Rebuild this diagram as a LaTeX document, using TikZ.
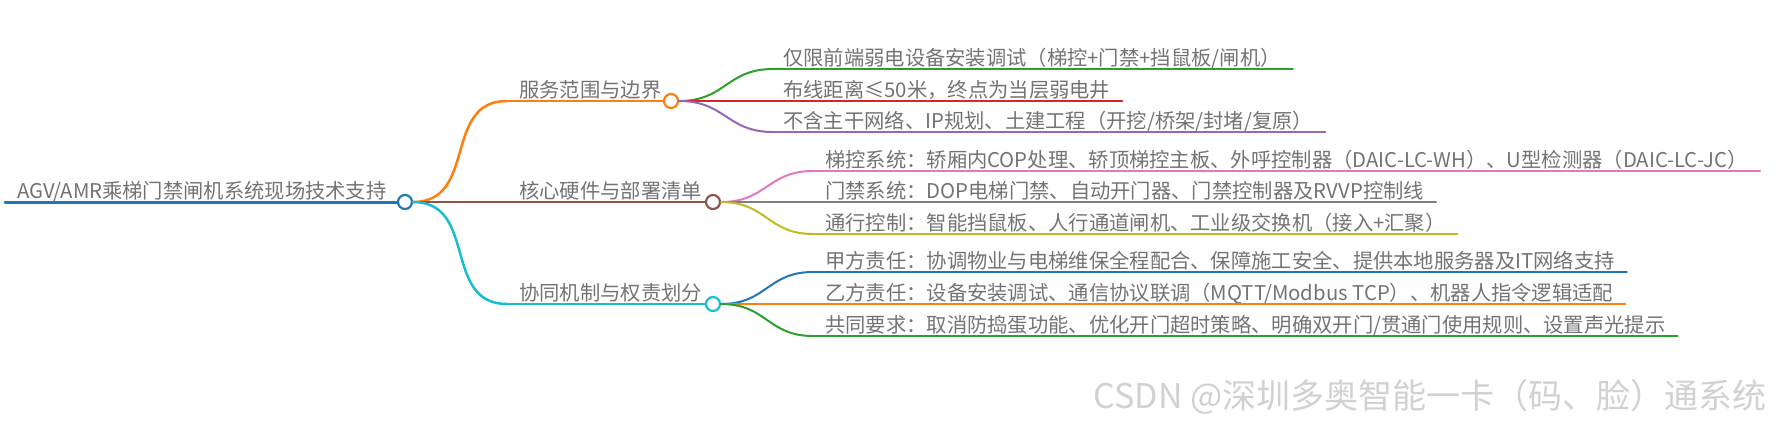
\documentclass[tikz,border=0pt]{standalone}
\usepackage{fontspec}
\setmainfont{Noto Sans CJK SC}
\usetikzlibrary{positioning}

\definecolor{cblue}{HTML}{1F77B4}
\definecolor{corange}{HTML}{FF7F0E}
\definecolor{cgreen}{HTML}{2CA02C}
\definecolor{cred}{HTML}{D62728}
\definecolor{cpurple}{HTML}{9467BD}
\definecolor{cbrown}{HTML}{8C564B}
\definecolor{cpink}{HTML}{E377C2}
\definecolor{cgray}{HTML}{7F7F7F}
\definecolor{colive}{HTML}{BCBD22}
\definecolor{ccyan}{HTML}{17BECF}

\begin{document}
\begin{tikzpicture}[x=1pt,y=-1pt,line cap=round]
\tikzstyle{dot}=[circle,draw,fill=white,line width=2.2pt,minimum size=14pt,inner sep=0pt]
\tikzstyle{txt}=[anchor=base west,yshift=4pt,inner sep=0pt,text=black!55,font=\fontsize{20.3}{24}\selectfont]
\tikzstyle{link}=[out=0,in=180,looseness=1.2]

\useasboundingbox (0,0) rectangle (1780,426);

% root
\coordinate (R0) at (5,202);
\node[dot,draw=cblue]    (R) at (405,202) {};
\node (Rt) [right=12pt of R0,txt] {AGV/AMR乘梯门禁闸机系统现场技术支持};

% branches
\coordinate (A0) at (507,101);
\coordinate (B0) at (507,202);
\coordinate (C0) at (507,304);
\node[dot,draw=corange]  (A) at (671,101) {};
\node[dot,draw=cbrown]   (B) at (713,202) {};
\node[dot,draw=ccyan]    (C) at (713,304) {};
\node (At) [right=12pt of A0,txt] {服务范围与边界};
\node (Bt) [right=12pt of B0,txt] {核心硬件与部署清单};
\node (Ct) [right=12pt of C0,txt] {协同机制与权责划分};

% leaves
\coordinate (A1) at (773,69);
\coordinate (A2) at (773,101);
\coordinate (A3) at (773,132);
\coordinate (B1) at (813,171);
\coordinate (B2) at (813,202);
\coordinate (B3) at (813,234);
\coordinate (C1) at (813,272);
\coordinate (C2) at (813,304);
\coordinate (C3) at (813,336);
\node (A1t) [right=10pt of A1,txt] {仅限前端弱电设备安装调试（梯控+门禁+挡鼠板/闸机）};
\node (A2t) [right=10pt of A2,txt] {布线距离≤50米，终点为当层弱电井};
\node (A3t) [right=10pt of A3,txt] {不含主干网络、IP规划、土建工程（开挖/桥架/封堵/复原）};
\node (B1t) [right=12pt of B1,txt] {梯控系统：轿厢内COP处理、轿顶梯控主板、外呼控制器（DAIC-LC-WH）、U型检测器（DAIC-LC-JC）};
\node (B2t) [right=12pt of B2,txt] {门禁系统：DOP电梯门禁、自动开门器、门禁控制器及RVVP控制线};
\node (B3t) [right=12pt of B3,txt] {通行控制：智能挡鼠板、人行通道闸机、工业级交换机（接入+汇聚）};
\node (C1t) [right=12pt of C1,txt] {甲方责任：协调物业与电梯维保全程配合、保障施工安全、提供本地服务器及IT网络支持};
\node (C2t) [right=12pt of C2,txt] {乙方责任：设备安装调试、通信协议联调（MQTT/Modbus TCP）、机器人指令逻辑适配};
\node (C3t) [right=12pt of C3,txt] {共同要求：取消防捣蛋功能、优化开门超时策略、明确双开门/贯通门使用规则、设置声光提示};

\node (W) at (1430,397) {\fontsize{34}{40}\selectfont\color{black!18}CSDN @深圳多奥智能一卡（码、脸）通系统};

\draw[cblue,line width=3pt] (R0) -- (R);

\path[link,line width=2.5pt]
(R) edge[corange] (A0)
(R) edge[cbrown]  (B0)
(R) edge[ccyan]   (C0);
\draw[corange,line width=2.5pt] (A0) -- (A);
\draw[cbrown,line width=2.5pt]  (B0) -- (B);
\draw[ccyan,line width=2.5pt]   (C0) -- (C);

\path[link,line width=2pt]
(A) edge[cgreen]  (A1)
(A) edge[cred]    (A2)
(A) edge[cpurple] (A3)
(B) edge[cpink]   (B1)
(B) edge[cgray]   (B2)
(B) edge[colive]  (B3)
(C) edge[cblue]   (C1)
(C) edge[corange] (C2)
(C) edge[cgreen]  (C3);

\draw[cgreen,line width=2pt]  (A1) -- (A1t.base east |- A1) -- ++(12,0);
\draw[cred,line width=2pt]    (A2) -- (A2t.base east |- A2) -- ++(12,0);
\draw[cpurple,line width=2pt] (A3) -- (A3t.base east |- A3) -- ++(12,0);
\draw[cpink,line width=2pt]   (B1) -- (B1t.base east |- B1) -- ++(12,0);
\draw[cgray,line width=2pt]   (B2) -- (B2t.base east |- B2) -- ++(12,0);
\draw[colive,line width=2pt]  (B3) -- (B3t.base east |- B3) -- ++(12,0);
\draw[cblue,line width=2pt]   (C1) -- (C1t.base east |- C1) -- ++(12,0);
\draw[corange,line width=2pt] (C2) -- (C2t.base east |- C2) -- ++(12,0);
\draw[cgreen,line width=2pt]  (C3) -- (C3t.base east |- C3) -- ++(12,0);
\end{tikzpicture}
\end{document}
